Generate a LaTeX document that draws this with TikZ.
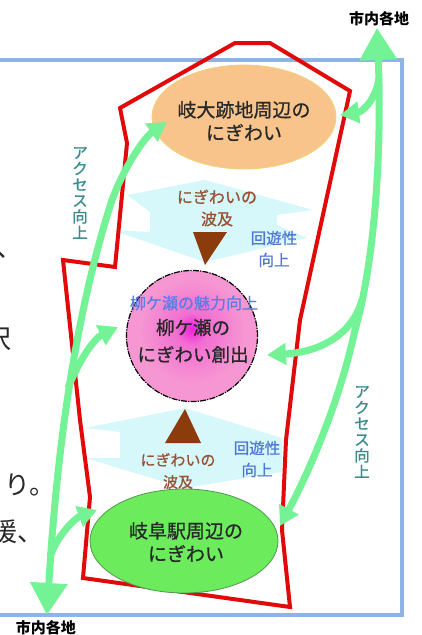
\documentclass[tikz,border=0pt]{standalone}
\usepackage{fontspec}
\newfontfamily\jp{Noto Sans CJK JP}
\newfontfamily\jpm[FakeBold=0.8]{Noto Sans CJK JP}
\usetikzlibrary{arrows.meta,shapes.geometric}
\definecolor{frameblue}{RGB}{142,180,227}
\definecolor{zonered}{RGB}{225,10,10}
\definecolor{orangef}{RGB}{248,196,140}
\definecolor{orangeb}{RGB}{240,210,120}
\definecolor{greenf}{RGB}{108,235,92}
\definecolor{greenb}{RGB}{80,150,80}
\definecolor{pinkin}{RGB}{240,30,220}
\definecolor{pinkmid}{RGB}{242,110,210}
\definecolor{pinkout}{RGB}{246,150,210}
\definecolor{arrowgreen}{RGB}{115,242,150}
\definecolor{cyanf}{RGB}{215,248,250}
\definecolor{brownc}{RGB}{140,60,12}
\definecolor{browntxt}{RGB}{150,80,50}
\definecolor{bluetxt}{RGB}{80,120,210}
\definecolor{bluetxt2}{RGB}{90,125,230}
\definecolor{tealtxt}{RGB}{60,140,140}
\definecolor{darktxt}{RGB}{40,40,40}
\pgfdeclareradialshading{pinkshade}{\pgfpoint{0bp}{3bp}}{color(0bp)=(pinkin); color(6bp)=(pinkmid); color(20bp)=(pinkout); color(50bp)=(pinkout)}
\begin{document}
\begin{tikzpicture}[x=1pt,y=-1pt,
  lbl/.style={inner sep=0pt, align=center},
  bigtxt/.style={lbl, font=\jpm\fontsize{19}{23}\selectfont, text=darktxt},
  midtxt/.style={lbl, font=\jpm\fontsize{18.5}{27}\selectfont, text=darktxt},
  spreadtxt/.style={lbl, font=\jpm\fontsize{16}{22}\selectfont, text=browntxt},
  looptxt/.style={lbl, font=\jpm\fontsize{15.5}{22}\selectfont, text=bluetxt},
  acctxt/.style={lbl, font=\jpm\fontsize{15.5}{16}\selectfont, text=tealtxt},
  citytxt/.style={lbl, font=\jp\bfseries\fontsize{15}{16}\selectfont, text=black},
  bodytxt/.style={inner sep=0pt, font=\jp\fontsize{26}{30}\selectfont, text=darktxt},
  garrow/.style={draw=arrowgreen, line width=7pt},
  bigtip/.tip={Triangle[width=36pt,length=32pt]},
  smalltip/.tip={Triangle[width=21pt,length=19pt]}
]
\useasboundingbox (0,0) rectangle (422,635);
\fill[white] (0,0) rectangle (422,635);

% frame
\draw[frameblue, line width=4.5pt] (-10,60) -- (402,60) -- (402,615) -- (-10,615);

% spreading shapes
\fill[cyanf] (127,195) -- (205,180) -- (313,210) -- (277,215) -- (277,225) -- (307,238)
  -- (205,262) -- (112,230) -- (150,232) -- (150,212) -- cycle;
\fill[cyanf] (85,428) -- (185,408) -- (282,438) -- (282,472) -- (185,488) -- (85,458)
  -- (120,458) -- (120,432) -- cycle;

% zone outline
\draw[zonered, line width=4pt, line join=miter]
  (120,108) -- (235,43) -- (270,43) -- (350,91) -- (300,320) -- (286,440) -- (282,530)
  -- (290,607) -- (83,578) -- (90,497) -- (80,420) -- (63,260) -- (115,267) -- (127,143) -- cycle;

% main nodes
\node[ellipse, draw=orangeb, fill=orangef, line width=0.8pt, minimum width=184pt, minimum height=104pt] (gidai) at (244,117) {};
\node[bigtxt] (gidaitxt) at (244,121) {岐大跡地周辺の\\にぎわい};

\node[circle, shading=pinkshade, draw=black, line width=1.2pt,
  dash pattern=on 6pt off 1.2pt on 1.2pt off 1.2pt, minimum size=131pt] (yana) at (192,336) {};
\node[lbl, font=\jpm\fontsize{16}{18}\selectfont, text=bluetxt2] (yanaup) at (194,303) {柳ケ瀬の魅力向上};
\node[midtxt] (yanatxt) at (193,341) {柳ケ瀬の\\にぎわい創出};

\node[ellipse, draw=greenb, fill=greenf, line width=0.8pt, minimum width=188pt, minimum height=104pt] (eki) at (184,541) {};
\node[bigtxt] (ekitxt) at (186,542) {岐阜駅周辺の\\にぎわい};

% spreading triangles and labels
\fill[brownc] (193,232) -- (227,232) -- (205,265) -- cycle;
\fill[brownc] (185,409) -- (165,443) -- (201,443) -- cycle;
\node[spreadtxt] (sp1) at (217,208) {にぎわいの\\波及};
\node[spreadtxt, font=\jpm\fontsize{15}{22}\selectfont] (sp2) at (178,471) {にぎわいの\\波及};
\node[looptxt] (lp1) at (274,249) {回遊性\\向上};
\node[looptxt] (lp2) at (257,459) {回遊性\\向上};

% access labels
\node[acctxt] (acc1) at (80,193) {ア\\ク\\セ\\ス\\向\\上};
\node[acctxt] (acc2) at (362,432) {ア\\ク\\セ\\ス\\向\\上};

% city labels
\node[citytxt] (cityTR) at (379,19) {市内各地};
\node[citytxt] (cityBL) at (46,628) {市内各地};

% cut-off body text at the left edge (cropped as in the reference)
\node[bodytxt, anchor=base west] (f1) at (-20,259) {へ};
\node[bodytxt, anchor=base west] (f2) at (-15,348) {沢};
\node[bodytxt, anchor=base west] (f3) at (4,494) {り。};
\node[bodytxt, anchor=base west] (f4) at (-9,541) {援、};

% connector end points
\coordinate (tipBL) at (47,615);
\coordinate (tipGidaiL) at (167,122);
\coordinate (brL1) at (68,388);
\coordinate (tipYanaL) at (118,327);
\coordinate (brL2) at (50,556);
\coordinate (tipEkiL) at (97,510);
\coordinate (tipTR) at (377,28);
\coordinate (tipEkiR) at (280,526);
\coordinate (brR1) at (362,300);
\coordinate (tipYanaR) at (267,355);
\coordinate (brR0) at (379,78);
\coordinate (tipGidaiR) at (340,115);

% green access arrows
\draw[garrow, {bigtip}-{smalltip}] (tipBL) .. controls (55,480) and (70,330) .. (112,200)
  .. controls (125,165) and (145,137) .. (tipGidaiL);
\draw[garrow, -{smalltip}] (brL1) .. controls (80,358) and (95,338) .. (tipYanaL);
\draw[garrow, -{smalltip}] (brL2) .. controls (58,535) and (75,518) .. (tipEkiL);

\draw[garrow, {bigtip}-{smalltip}] (tipTR) .. controls (382,150) and (375,260) .. (355,330)
  .. controls (340,400) and (310,470) .. (tipEkiR);
\draw[garrow, -{smalltip}] (brR1) .. controls (352,335) and (320,352) .. (tipYanaR);
\draw[garrow, -{smalltip}] (brR0) .. controls (376,100) and (362,112) .. (tipGidaiR);
\end{tikzpicture}
\end{document}
